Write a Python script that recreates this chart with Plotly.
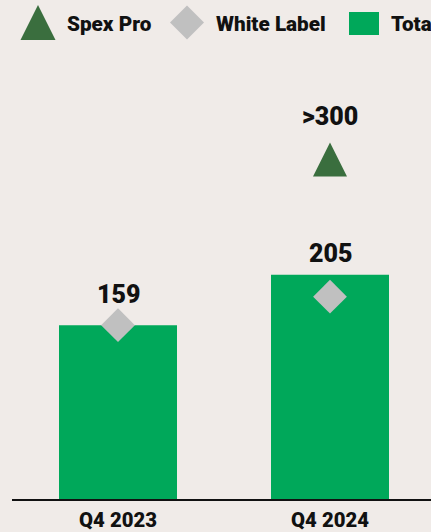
import plotly.graph_objects as go

# ---- data ----
categories = ["Q4 2023", "Q4 2024"]
total_values = [159, 205]
white_label_values = [159, 185]
spex_pro_values = [None, 326]
spex_pro_labels = ["", ">300"]
series_names = ["Spex Pro", "White Label", "Total"]

# ---- styles ----
BG = "#F0EBE8"
GREEN = "#00A85A"
DARK_GREEN = "#3A6E3E"
GREY = "#C0C0C0"
INK = "#111111"
FONT = "Roboto"
WEIGHT = 900
TOTAL_LABEL_SHIFT = [31, 21]   # px above bar top (label centre)
SPEX_LABEL_SHIFT = 26

W, H = 431, 532
ML, MR, MT, MB = 12, 0, 60, 33
PW, PH = W - ML - MR, H - MT - MB
CAT_PX = 212  # pixel spacing between categories

def px_to_paper_x(px):
    return (px - ML) / PW

def px_to_paper_y(py):
    return (H - MB - py) / PH

def font(size):
    return dict(family=FONT, size=size, color=INK, weight=WEIGHT)

fig = go.Figure()
fig.add_trace(go.Bar(
    x=categories, y=total_values, name=series_names[2],
    width=118 / CAT_PX, marker=dict(color=GREEN, line=dict(width=0)),
    showlegend=False, hoverinfo="skip"))
fig.add_trace(go.Scatter(
    x=categories, y=white_label_values, name=series_names[1], mode="markers",
    marker=dict(symbol="diamond", size=26, color=GREY, line=dict(width=0)),
    showlegend=False, hoverinfo="skip"))
fig.add_trace(go.Scatter(
    x=categories, y=spex_pro_values, name=series_names[0], mode="markers",
    marker=dict(symbol="arrow-up", size=34, color=DARK_GREEN, line=dict(width=0)),
    showlegend=False, hoverinfo="skip"))

annotations = []
for c, v, s in zip(categories, total_values, TOTAL_LABEL_SHIFT):
    annotations.append(dict(x=c, y=v, xref="x", yref="y", text=f"{v}",
                            showarrow=False, yanchor="middle", yshift=s,
                            font=font(25)))
for c, v, t in zip(categories, spex_pro_values, spex_pro_labels):
    if v is not None:
        annotations.append(dict(x=c, y=v, xref="x", yref="y", text=t,
                                showarrow=False, yanchor="middle", yshift=SPEX_LABEL_SHIFT,
                                font=font(25)))

# ---- custom legend (large symbols) ----
legend_text_x = [65, 214, 389]
legend_text_y = 24
for name, tx in zip(series_names, legend_text_x):
    annotations.append(dict(x=px_to_paper_x(tx), y=px_to_paper_y(legend_text_y),
                            xref="paper", yref="paper", xanchor="left", yanchor="middle",
                            text=name, showarrow=False, font=font(20.7)))

shapes = [
    dict(type="path", xref="paper", yref="paper", xsizemode="pixel", ysizemode="pixel",
         xanchor=px_to_paper_x(38), yanchor=px_to_paper_y(22.5),
         path="M-17.5,-17.5 L17.5,-17.5 L0,17.5 Z",
         fillcolor=DARK_GREEN, line=dict(width=0)),
    dict(type="path", xref="paper", yref="paper", xsizemode="pixel", ysizemode="pixel",
         xanchor=px_to_paper_x(187), yanchor=px_to_paper_y(22.5),
         path="M0,17 L17,0 L0,-17 L-17,0 Z",
         fillcolor=GREY, line=dict(width=0)),
    dict(type="rect", xref="paper", yref="paper", xsizemode="pixel", ysizemode="pixel",
         xanchor=px_to_paper_x(364), yanchor=px_to_paper_y(23.5),
         x0=-15, x1=15, y0=-11.5, y1=11.5,
         fillcolor=GREEN, line=dict(width=0)),
]

fig.update_layout(
    width=W, height=H,
    margin=dict(l=ML, r=MR, t=MT, b=MB, pad=0),
    paper_bgcolor=BG, plot_bgcolor=BG,
    showlegend=False,
    annotations=annotations, shapes=shapes,
    font=dict(family=FONT, color=INK),
    xaxis=dict(type="category", range=[-0.5, -0.5 + PW / CAT_PX],
               showline=True, linecolor=INK, linewidth=2, ticks="",
               showgrid=False, zeroline=False, automargin=False,
               tickfont=font(20.3), ticklabelstandoff=2),
    yaxis=dict(range=[0, PH / 1.0935], visible=False, showgrid=False,
               zeroline=False, automargin=False),
)

fig.write_html("out.html", config={"displayModeBar": False, "staticPlot": True},
               post_script="document.body.style.margin='0';document.body.style.overflow='hidden';")
